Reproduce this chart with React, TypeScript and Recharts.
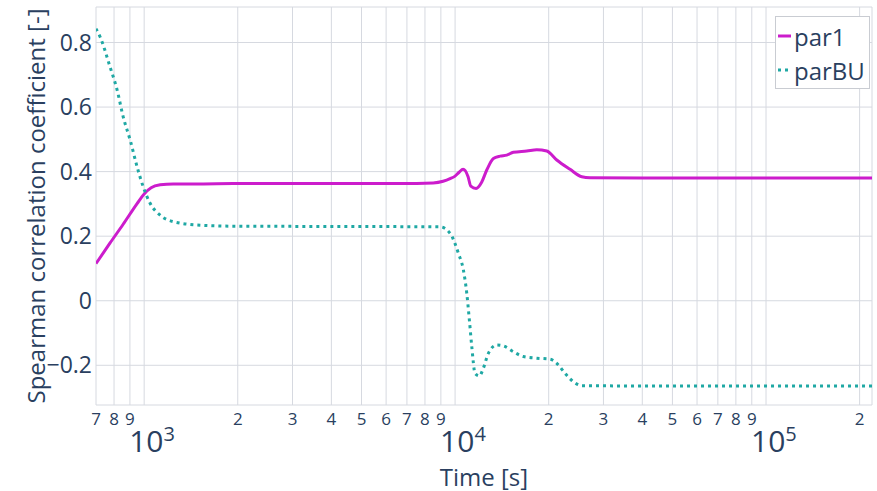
import React from 'react';
import { LineChart, Line, XAxis, YAxis, CartesianGrid } from 'recharts';

// values
const par1Time = [700, 777, 856, 949, 1000, 1053, 1126, 1240, 1514, 1933, 3175, 4597, 6655, 8500, 9151, 9636, 10000, 10300, 10610, 11010, 11232, 11681, 12185, 12642, 13279, 13950, 14660, 15397, 17006, 18310, 19720, 21232, 23433, 25553, 27176, 40000, 80000, 219200];
const par1Values = [0.115, 0.179, 0.237, 0.301, 0.331, 0.35, 0.359, 0.362, 0.362, 0.363, 0.363, 0.363, 0.363, 0.365, 0.37, 0.378, 0.386, 0.398, 0.407, 0.384, 0.355, 0.348, 0.368, 0.405, 0.441, 0.448, 0.451, 0.46, 0.464, 0.468, 0.464, 0.436, 0.407, 0.384, 0.381, 0.38, 0.38, 0.38];

const parBUTime = [700, 722, 777, 819, 856, 902, 949, 993, 1045, 1126, 1240, 1514, 1933, 4597, 8952, 9636, 10247, 10634, 10904, 11116, 11315, 11595, 11970, 12328, 12794, 13616, 14296, 15397, 16585, 18310, 20207, 21232, 22581, 24012, 25553, 40000, 219200];
const parBUValues = [0.843, 0.817, 0.724, 0.652, 0.57, 0.497, 0.415, 0.353, 0.302, 0.265, 0.245, 0.234, 0.231, 0.23, 0.229, 0.209, 0.147, 0.095, 0.023, -0.06, -0.142, -0.225, -0.233, -0.209, -0.163, -0.137, -0.14, -0.158, -0.173, -0.178, -0.181, -0.194, -0.225, -0.251, -0.263, -0.264, -0.264];

const xTicks = [700, 800, 900, 1000, 2000, 3000, 4000, 5000, 6000, 7000, 8000, 9000, 10000, 20000, 30000, 40000, 50000, 60000, 70000, 80000, 90000, 100000, 200000];
const yTicks = [-0.2, 0, 0.2, 0.4, 0.6, 0.8];

const par1Data = par1Time.map((t, i) => ({ t, v: par1Values[i] }));
const parBUData = parBUTime.map((t, i) => ({ t, v: parBUValues[i] }));

const MAGENTA = '#cc1ccc';
const TEAL = '#1fa8a4';
const TEXT = '#2a3f5f';
const FONT = '"Open Sans", sans-serif';

function XTick(props: any) {
  const { x, y, payload } = props;
  const v = payload.value;
  const exp = Math.round(Math.log10(v));
  if (Math.abs(Math.pow(10, exp) - v) < 1e-6) {
    return (
      <text x={x - 15} y={y + 47} textAnchor="start" fontSize={30} fill={TEXT} fontFamily={FONT}>
        10<tspan fontSize={20} dy={-11}>{exp}</tspan>
      </text>
    );
  }
  const digit = String(Math.round(v / Math.pow(10, Math.floor(Math.log10(v)))));
  return (
    <text x={x} y={y + 20} textAnchor="middle" fontSize={17} fill={TEXT} fontFamily={FONT}>{digit}</text>
  );
}

function YLabel(props: any) {
  const { viewBox } = props;
  const cx = viewBox.x + 35;
  const cy = viewBox.y + viewBox.height / 2;
  return (
    <text x={cx} y={cy} transform={`rotate(-90 ${cx} ${cy})`} textAnchor="middle" dominantBaseline="central" fontSize={24} fill={TEXT} fontFamily={FONT}>
      Spearman correlation coefficient [-]
    </text>
  );
}

function XLabel(props: any) {
  const { viewBox } = props;
  return (
    <text x={viewBox.x + viewBox.width / 2} y={viewBox.y + 71} textAnchor="middle" dominantBaseline="central" fontSize={24} fill={TEXT} fontFamily={FONT}>
      Time [s]
    </text>
  );
}

export default function App() {
  return (
    <div style={{ position: 'relative', width: 877, height: 491, background: '#fff' }}>
      <style>{`body{margin:0}`}</style>
      <LineChart width={877} height={491} margin={{ top: 7, right: 5, bottom: 0, left: 0 }}>
        <CartesianGrid stroke="#d6d9e0" strokeWidth={1} />
        <XAxis
          dataKey="t"
          type="number"
          scale="log"
          domain={[700, 219200]}
          allowDataOverflow
          ticks={xTicks}
          interval={0}
          height={86}
          axisLine={false}
          tickLine={false}
          tickSize={0}
          tickMargin={0}
          tick={<XTick />}
          label={<XLabel />}
        />
        <YAxis
          type="number"
          domain={[-0.323, 0.91]}
          allowDataOverflow
          ticks={yTicks}
          width={96}
          axisLine={false}
          tickLine={false}
          tickSize={0}
          tickMargin={4}
          tick={{ fill: TEXT, fontSize: 23, fontFamily: FONT }}
          tickFormatter={(v: number) => (v === 0 ? '0' : v < 0 ? '\u2212' + Math.abs(v).toFixed(1) : v.toFixed(1))}
          label={<YLabel />}
        />
        <Line data={par1Data} dataKey="v" type="monotone" stroke={MAGENTA} strokeWidth={3} dot={false} isAnimationActive={false} />
        <Line data={parBUData} dataKey="v" type="monotone" stroke={TEAL} strokeWidth={3} strokeDasharray="3 4" dot={false} isAnimationActive={false} />
      </LineChart>
      <div style={{ position: 'absolute', left: 775, top: 16, width: 95, height: 73, border: '1px solid #c9ccd2', background: '#fff', boxSizing: 'border-box', fontFamily: FONT, color: TEXT, fontSize: 24 }}>
        <div style={{ position: 'absolute', left: 2, top: 4, display: 'flex', alignItems: 'center', height: 30 }}>
          <svg width={14} height={6}><line x1={0} y1={3} x2={13} y2={3} stroke={MAGENTA} strokeWidth={3} /></svg>
          <span style={{ marginLeft: 2 }}>par1</span>
        </div>
        <div style={{ position: 'absolute', left: 2, top: 38, display: 'flex', alignItems: 'center', height: 30 }}>
          <svg width={14} height={6}><line x1={0} y1={3} x2={13} y2={3} stroke={TEAL} strokeWidth={3} strokeDasharray="3 4" /></svg>
          <span style={{ marginLeft: 2 }}>parBU</span>
        </div>
      </div>
    </div>
  );
}
